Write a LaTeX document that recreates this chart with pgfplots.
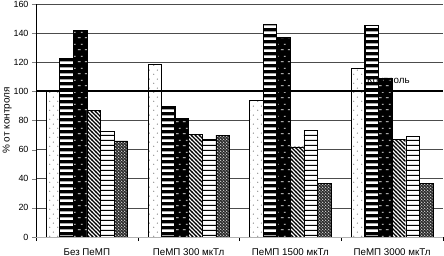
\documentclass[border=0pt]{standalone}
\usepackage{fontspec}
\setmainfont{Liberation Sans}
\usepackage{pgfplots}
\pgfplotsset{compat=1.18}
\usetikzlibrary{patterns}

\pgfdeclarepatternformonly{sdots}{\pgfpointorigin}{\pgfpoint{8bp}{9bp}}{\pgfpoint{8bp}{9bp}}{%
 \pgfpathcircle{\pgfpoint{2bp}{2bp}}{0.7bp}%
 \pgfpathcircle{\pgfpoint{6bp}{6.5bp}}{0.7bp}%
 \pgfusepath{fill}}
\pgfdeclarepatternformonly{thickh}{\pgfpointorigin}{\pgfpoint{20bp}{6.2bp}}{\pgfpoint{20bp}{6.2bp}}{%
 \pgfpathrectangle{\pgfpointorigin}{\pgfpoint{20bp}{3bp}}\pgfusepath{fill}}
\pgfdeclarepatternformonly{wdash}{\pgfpointorigin}{\pgfpoint{7bp}{12bp}}{\pgfpoint{7bp}{12bp}}{%
 \pgfpathrectangle{\pgfpoint{1bp}{2bp}}{\pgfpoint{3bp}{0.8bp}}%
 \pgfpathrectangle{\pgfpoint{4.5bp}{8bp}}{\pgfpoint{2bp}{0.8bp}}\pgfusepath{fill}}
\pgfdeclarepatternformonly{nwl}{\pgfpoint{-1bp}{-1bp}}{\pgfpoint{5bp}{5bp}}{\pgfpoint{4bp}{4bp}}{%
 \pgfsetlinewidth{1.1bp}\pgfpathmoveto{\pgfpoint{-0.2bp}{4.2bp}}\pgfpathlineto{\pgfpoint{4.2bp}{-0.2bp}}\pgfusepath{stroke}}
\pgfdeclarepatternformonly{thinh}{\pgfpointorigin}{\pgfpoint{20bp}{5bp}}{\pgfpoint{20bp}{5bp}}{%
 \pgfpathrectangle{\pgfpointorigin}{\pgfpoint{20bp}{1.3bp}}\pgfusepath{fill}}
\pgfdeclarepatternformonly{wdots}{\pgfpointorigin}{\pgfpoint{3.4bp}{3.4bp}}{\pgfpoint{3.4bp}{3.4bp}}{%
 \pgfpathcircle{\pgfpoint{0.85bp}{0.85bp}}{0.65bp}%
 \pgfpathcircle{\pgfpoint{2.55bp}{2.55bp}}{0.65bp}\pgfusepath{fill}}

\begin{document}
\begin{tikzpicture}
\useasboundingbox (-36bp,-19bp) rectangle (408bp,237bp);
\begin{axis}[
  at={(0,0)}, anchor=south west,
  scale only axis, width=407bp, height=233bp,
  xmin=-0.5, xmax=3.5, ymin=0, ymax=160,
  ybar=0pt, bar width=13.6bp,
  axis x line*=bottom, axis y line*=left,
  x axis line style={gray!60}, y axis line style={black},
  xtick={0,1,2,3},
  xticklabels={Без ПеМП, ПеМП 300 мкТл, ПеМП 1500 мкТл, ПеМП 3000 мкТл},
  minor xtick={-0.5,0.5,1.5,2.5,3.5},
  major x tick style={draw=none},
  minor x tick style={black},
  ytick={0,20,...,160},
  tick align=outside, major tick length=4bp, minor tick length=4bp,
  ymajorgrids, grid style={gray!60!black, line width=0.6bp},
  /pgf/number format/assume math mode=true,
  yticklabel style={font=\fontsize{9}{10}\selectfont},
  xticklabel style={font=\fontsize{9.8}{11}\selectfont, yshift=-4bp},
  ylabel={\% от контроля},
  ylabel style={font=\fontsize{9.5}{11}\selectfont},
  every axis y label/.style={at={(axis description cs:-0.071,0.5)}, rotate=90, anchor=center},
]
\addplot[draw=black, fill=white, postaction={pattern=sdots, pattern color=gray}] coordinates {(0,100) (1,118.5) (2,94) (3,116)};
\addplot[draw=black, line width=1.3bp, fill=black, postaction={pattern=thickh, pattern color=white}] coordinates {(0,122.5) (1,89.5) (2,146) (3,145)};
\addplot[draw=black, fill=black, postaction={pattern=wdash, pattern color=white}] coordinates {(0,142) (1,81.5) (2,137) (3,109)};
\addplot[draw=black, fill=white, postaction={pattern=nwl, pattern color=black}] coordinates {(0,87) (1,70.5) (2,62) (3,67)};
\addplot[draw=black, fill=white, postaction={pattern=thinh, pattern color=black}] coordinates {(0,72.5) (1,67) (2,73) (3,69)};
\addplot[draw=black, fill=black!85, postaction={pattern=wdots, pattern color=white}] coordinates {(0,66) (1,70) (2,37) (3,37)};
\draw[black, line width=2bp] (axis cs:-0.5,100) -- (axis cs:3.5,100);
\node[anchor=base west, font=\fontsize{9.8}{11}\selectfont, inner sep=0pt] at (axis cs:2.753,105.3) {Контроль};
\end{axis}
\end{tikzpicture}
\end{document}
